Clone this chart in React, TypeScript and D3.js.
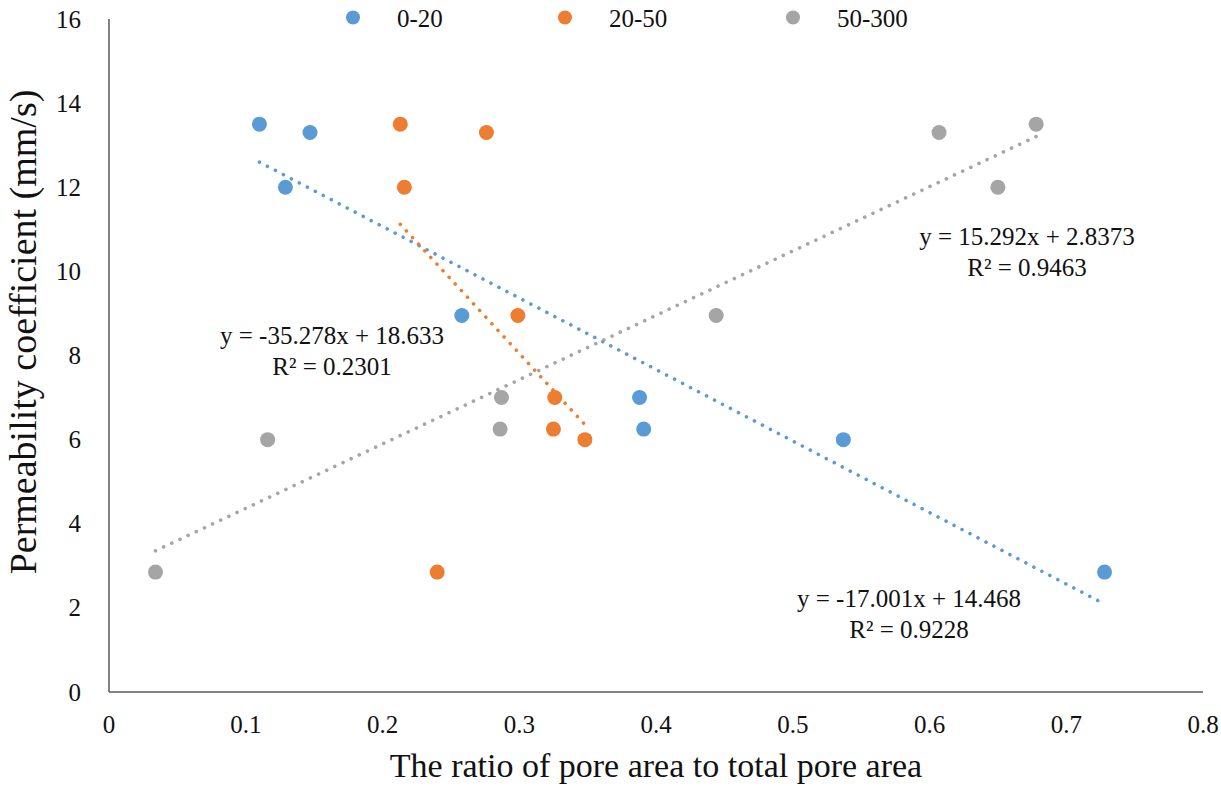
import { useEffect, useRef } from "react";
import * as d3 from "d3";

// series: pore size range (legend), colours
const seriesNames = ["0-20", "20-50", "50-300"];
const seriesColors = ["#5B9BD5", "#ED7D31", "#A5A5A5"];

// x: ratio of pore area to total pore area, y: permeability coefficient (mm/s)
const ratio0to20 = [0.11, 0.147, 0.129, 0.258, 0.388, 0.391, 0.537, 0.728];
const perm0to20 = [13.5, 13.3, 12.0, 8.95, 7.0, 6.25, 6.0, 2.85];
const ratio20to50 = [0.213, 0.276, 0.216, 0.299, 0.326, 0.325, 0.348, 0.24];
const perm20to50 = [13.5, 13.3, 12.0, 8.95, 7.0, 6.25, 6.0, 2.85];
const ratio50to300 = [0.034, 0.116, 0.287, 0.286, 0.444, 0.607, 0.65, 0.678];
const perm50to300 = [2.85, 6.0, 7.0, 6.25, 8.95, 13.3, 12.0, 13.5];

// linear trendlines, as printed on the chart
const slopes = [-17.001, -35.278, 15.292];
const intercepts = [14.468, 18.633, 2.8373];
const equations = ["y = -17.001x + 14.468", "y = -35.278x + 18.633", "y = 15.292x + 2.8373"];
const rSquared = ["R² = 0.9228", "R² = 0.2301", "R² = 0.9463"];

const xTicks = [0, 0.1, 0.2, 0.3, 0.4, 0.5, 0.6, 0.7, 0.8];
const yTicks = [0, 2, 4, 6, 8, 10, 12, 14, 16];

const xTitle = "The ratio of pore area to total pore area";
const yTitle = "Permeability coefficient (mm/s)";

export default function App() {
  const ref = useRef<SVGSVGElement | null>(null);
  const width = 1221;
  const height = 786;
  const font = "'Liberation Serif', 'Times New Roman', serif";

  useEffect(() => {
    const svg = d3.select(ref.current);
    svg.selectAll("*").remove();

    const x = d3.scaleLinear().domain([0, 0.8]).range([109, 1203]);
    const y = d3.scaleLinear().domain([0, 16]).range([692, 19]);

    const series = [
      { xs: ratio0to20, ys: perm0to20 },
      { xs: ratio20to50, ys: perm20to50 },
      { xs: ratio50to300, ys: perm50to300 },
    ];

    // axis lines, no ticks
    svg.append("line")
      .attr("x1", x(0)).attr("x2", x(0))
      .attr("y1", y(0)).attr("y2", y(16))
      .attr("stroke", "#595959").attr("stroke-width", 1.5);
    svg.append("line")
      .attr("x1", x(0)).attr("x2", x(0.8))
      .attr("y1", y(0)).attr("y2", y(0))
      .attr("stroke", "#595959").attr("stroke-width", 1.5);

    // tick labels
    svg.append("g").selectAll("text")
      .data(yTicks)
      .enter().append("text")
      .attr("x", 81)
      .attr("y", (d) => y(d) + 8.5)
      .attr("text-anchor", "end")
      .attr("font-family", font).attr("font-size", 25).attr("fill", "#111")
      .text((d) => String(d));

    svg.append("g").selectAll("text")
      .data(xTicks)
      .enter().append("text")
      .attr("x", (d) => x(d))
      .attr("y", 733)
      .attr("text-anchor", "middle")
      .attr("font-family", font).attr("font-size", 25).attr("fill", "#111")
      .text((d) => (d === 0 ? "0" : d3.format(".1f")(d)));

    // axis titles
    svg.append("text")
      .attr("x", (x(0) + x(0.8)) / 2).attr("y", 777)
      .attr("text-anchor", "middle")
      .attr("font-family", font).attr("font-size", 34).attr("fill", "#111")
      .text(xTitle);
    svg.append("text")
      .attr("transform", `translate(36,${332}) rotate(-90)`)
      .attr("text-anchor", "middle")
      .attr("font-family", font).attr("font-size", 38).attr("fill", "#111")
      .text(yTitle);

    // trendlines (round dots)
    series.forEach((s, i) => {
      const [x0, x1] = d3.extent(s.xs) as [number, number];
      const line = d3.line<number>()
        .x((d) => x(d))
        .y((d) => y(slopes[i] * d + intercepts[i]));
      svg.append("path")
        .attr("d", line([x0, x1]))
        .attr("fill", "none")
        .attr("stroke", seriesColors[i])
        .attr("stroke-width", 3.6)
        .attr("stroke-linecap", "round")
        .attr("stroke-dasharray", "0.01 9");
    });

    // points
    series.forEach((s, i) => {
      svg.append("g").selectAll("circle")
        .data(s.xs.map((v, k) => [v, s.ys[k]]))
        .enter().append("circle")
        .attr("cx", (d) => x(d[0]))
        .attr("cy", (d) => y(d[1]))
        .attr("r", 7.5)
        .attr("fill", seriesColors[i]);
    });

    // trendline equations
    const eqPos = [
      { cx: 909, by: 607 },
      { cx: 332, by: 344 },
      { cx: 1027, by: 245 },
    ];
    eqPos.forEach((p, i) => {
      const g = svg.append("g")
        .attr("font-family", font).attr("font-size", 25).attr("fill", "#111")
        .attr("text-anchor", "middle");
      g.append("text").attr("x", p.cx).attr("y", p.by).text(equations[i]);
      g.append("text").attr("x", p.cx).attr("y", p.by + 31).text(rSquared[i]);
    });

    // legend
    const legendX = [353, 565, 793];
    seriesNames.forEach((name, i) => {
      svg.append("circle")
        .attr("cx", legendX[i]).attr("cy", 17.5).attr("r", 7)
        .attr("fill", seriesColors[i]);
      svg.append("text")
        .attr("x", legendX[i] + 44).attr("y", 26.5)
        .attr("font-family", font).attr("font-size", 25).attr("fill", "#111")
        .text(name);
    });
  }, []);

  return (
    <svg
      ref={ref}
      width={width}
      height={height}
      style={{ position: "absolute", left: 0, top: 0, background: "#fff" }}
    />
  );
}
